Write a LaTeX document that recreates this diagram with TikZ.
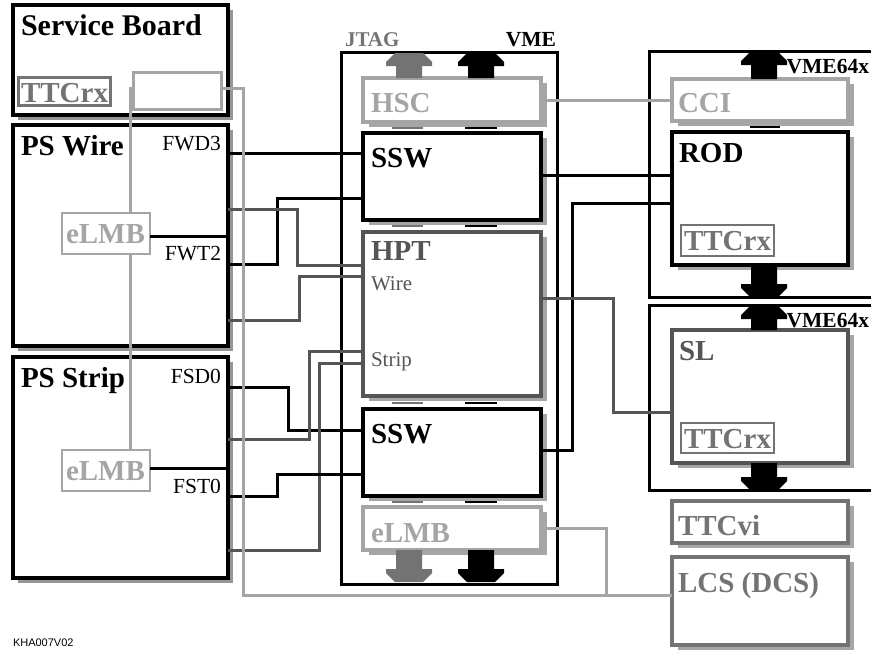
\documentclass[tikz,border=0pt]{standalone}
\usepackage{fontspec}
\setmainfont{Liberation Serif}
\newfontfamily\tagfont{Liberation Sans}
\usetikzlibrary{shadows}
\definecolor{lg}{RGB}{165,165,165}
\definecolor{mg}{RGB}{115,115,115}
\definecolor{dg}{RGB}{85,85,85}
\definecolor{sh}{RGB}{150,150,150}
\newcommand\blkup[4]{% cx, ytop, ybottom, colour
  \fill[#4] (#1-14,#2) -- (#1+14,#2) -- (#1+23,#2+9) -- (#1+23,#2+13) -- (#1+13,#2+13)
    -- (#1+13,#3) -- (#1-13,#3) -- (#1-13,#2+13) -- (#1-23,#2+13) -- (#1-23,#2+9) -- cycle;}
\newcommand\blkdown[4]{% cx, ytop, ybottom, colour
  \fill[#4] (#1-14,#3) -- (#1+14,#3) -- (#1+23,#3-9) -- (#1+23,#3-13) -- (#1+13,#3-13)
    -- (#1+13,#2) -- (#1-13,#2) -- (#1-13,#3-13) -- (#1-23,#3-13) -- (#1-23,#3-9) -- cycle;}
\tikzset{
  x=1pt, y=-1pt,
  every node/.style={inner sep=0pt, outer sep=0pt},
  bigbox/.style={draw=black, line width=4pt, fill=white, anchor=north west,
    drop shadow={shadow xshift=5pt, shadow yshift=-5pt, fill=sh, opacity=1}},
  crate/.style={draw=black, line width=3pt, anchor=north west},
  modbox/.style={line width=3.5pt, fill=white, anchor=north west,
    drop shadow={shadow xshift=6pt, shadow yshift=-5pt, fill=sh!85, opacity=1}},
  smallbox/.style={line width=2.5pt, fill=white, anchor=north west},
  big/.style={anchor=base west, font=\fontsize{29}{29}\selectfont\bfseries},
  mid/.style={anchor=base west, font=\fontsize{21}{21}\selectfont},
  midr/.style={anchor=base east, font=\fontsize{21.5}{21.5}\selectfont},
  hdr/.style={anchor=base east, font=\fontsize{21.5}{21.5}\selectfont\bfseries},
  conn/.style={line width=3pt, black},
  dconn/.style={line width=3pt, dg},
  gconn/.style={line width=3pt, lg},
  bus/.style={line width=2pt},
}
\begin{document}
\begin{tikzpicture}
\useasboundingbox (0,0) rectangle (871,651);
\clip (0,0) rectangle (871,651);
% crates
\node[crate, minimum width=216pt, minimum height=532pt] (vme) at (341,52) {};
\node[crate, minimum width=240pt, minimum height=246pt] (cr1) at (649,51) {};
\node[crate, minimum width=240pt, minimum height=185pt] (cr2) at (649,305) {};
% left crate modules
\node[modbox, draw=lg, minimum width=178pt, minimum height=44pt] (hsc) at (363,78) {};
\node[modbox, draw=black, minimum width=178pt, minimum height=87pt] (ssw1) at (363,133) {};
\node[modbox, draw=dg, minimum width=178pt, minimum height=164pt] (hpt) at (363,232) {};
\node[modbox, draw=black, minimum width=178pt, minimum height=87pt] (ssw2) at (363,409) {};
\node[modbox, draw=lg, minimum width=178pt, minimum height=43pt] (elmbc) at (363,507) {};
% right crate modules
\node[modbox, draw=lg, minimum width=176pt, minimum height=42pt] (cci) at (672,79) {};
\node[modbox, draw=black, minimum width=176pt, minimum height=133pt] (rod) at (672,132) {};
\node[smallbox, draw=mg, minimum width=93pt, minimum height=31pt] (rodttc) at (681,225) {};
\node[modbox, draw=dg, minimum width=176pt, minimum height=133pt] (sl) at (672,330) {};
\node[smallbox, draw=mg, minimum width=93pt, minimum height=30pt] (slttc) at (681,423) {};
\node[modbox, draw=mg, minimum width=176pt, minimum height=42pt] (ttcvi) at (672,501) {};
\node[modbox, draw=mg, minimum width=176pt, minimum height=88pt] (lcs) at (672,557) {};
% left boards
\node[bigbox, minimum width=215pt, minimum height=110pt] (sb) at (13,5) {};
\node[smallbox, draw=mg, line width=3pt, minimum width=92pt, minimum height=28pt] (sbttc) at (18,77) {};
\node[smallbox, draw=lg, line width=3pt, minimum width=88pt, minimum height=37pt] (blank) at (133,72) {};
\node[bigbox, minimum width=215pt, minimum height=221pt] (psw) at (13,125) {};
\node[bigbox, minimum width=215pt, minimum height=221pt] (pss) at (13,357) {};
\node[smallbox, draw=lg, line width=2pt, minimum width=88pt, minimum height=41pt] (elmb1) at (62,213) {};
\node[smallbox, draw=lg, line width=2pt, minimum width=88pt, minimum height=41pt] (elmb2) at (62,450) {};
% bus bars
\foreach \yy in {127.5,226,402.5,501.5} {
  \draw[bus, mg] (392,\yy) -- (423,\yy);
  \draw[bus, black] (465,\yy) -- (497,\yy);
}
\draw[bus, black] (750,126.5) -- (780,126.5);
% connectors
\draw[conn] (psw.east |- 0,153) -- (ssw1.west |- 0,153);
\draw[conn] (psw.east |- 0,264) -- (277,264) -- (277,198) -- (ssw1.west |- 0,198);
\draw[dconn] (psw.east |- 0,209) -- (297,209) -- (297,265) -- (hpt.west |- 0,265);
\draw[dconn] (psw.east |- 0,320) -- (299,320) -- (299,276) -- (hpt.west |- 0,276);
\draw[conn] (pss.east |- 0,387) -- (288,387) -- (288,430) -- (ssw2.west |- 0,430);
\draw[dconn] (pss.east |- 0,439) -- (309,439) -- (309,351) -- (hpt.west |- 0,351);
\draw[dconn] (pss.east |- 0,550) -- (319,550) -- (319,363) -- (hpt.west |- 0,363);
\draw[conn] (pss.east |- 0,496) -- (277,496) -- (277,474) -- (ssw2.west |- 0,474);
\draw[conn] (elmb1.east |- 0,236) -- (psw.east |- 0,236);
\draw[conn] (elmb2.east |- 0,468) -- (pss.east |- 0,468);
\draw[conn] (ssw1.east |- 0,175) -- (rod.west |- 0,175);
\draw[conn] (ssw2.east |- 0,450) -- (572,450) -- (572,203) -- (rod.west |- 0,203);
\draw[dconn] (hpt.east |- 0,298) -- (613,298) -- (613,412) -- (sl.west |- 0,412);
\draw[gconn] (hsc.east |- 0,100) -- (cci.west |- 0,100);
\coordinate (jn) at (606,595);
\draw[gconn] (blank.east |- 0,88) -- (243,88) -- (243,595) -- (lcs.west |- 0,595);
\draw[gconn] (elmbc.east |- 0,528) -- (606,528) -- (jn);
\draw[gconn] (blank.west |- 0,88) -- (130,88) -- (elmb1.north -| 130,0);
\draw[gconn] (elmb1.south -| 130,0) -- (elmb2.north -| 130,0);
% texts
\node[big, font=\fontsize{30}{30}\selectfont\bfseries] (t-sb) at (21,35) {Service Board};
\begin{scope}
  \clip (sbttc.north west) rectangle (sbttc.south east);
  \node[big, text=mg] (t-sbttc) at (21,102) {TTCrx};
\end{scope}
\node[big] (t-psw) at (21,155) {PS Wire};
\node[midr] (t-fwd3) at (221,150) {FWD3};
\node[midr] (t-fwt2) at (221,260) {FWT2};
\node[big, text=lg] (t-elmb1) at (66,243) {eLMB};
\node[big] (t-pss) at (21,387) {PS Strip};
\node[midr] (t-fsd0) at (221,383) {FSD0};
\node[midr] (t-fst0) at (221,493) {FST0};
\node[big, text=lg] (t-elmb2) at (66,480) {eLMB};
\node[anchor=base west, font=\fontsize{21}{21}\selectfont\bfseries, text=mg] (t-jtag) at (345,46) {JTAG};
\node[hdr] (t-vme) at (556,46) {VME};
\node[big, text=lg] (t-hsc) at (371,112) {HSC};
\node[big] (t-ssw1) at (371,167) {SSW};
\node[big, text=dg] (t-hpt) at (371,260) {HPT};
\node[mid, text=dg] (t-wire) at (371,290) {Wire};
\node[mid, text=dg] (t-strip) at (371,366) {Strip};
\node[big] (t-ssw2) at (371,443) {SSW};
\node[big, text=lg] (t-elmbc) at (371,542) {eLMB};
\node[big, text=lg] (t-cci) at (678,112) {CCI};
\node[big] (t-rod) at (679,162) {ROD};
\begin{scope}
  \clip (rodttc.north west) rectangle (rodttc.south east);
  \node[big, text=mg] (t-rodttc) at (684,250) {TTCrx};
\end{scope}
\node[big, text=dg] (t-sl) at (679,360) {SL};
\begin{scope}
  \clip (slttc.north west) rectangle (slttc.south east);
  \node[big, text=mg] (t-slttc) at (684,448) {TTCrx};
\end{scope}
\node[big, text=mg] (t-ttcvi) at (678,535) {TTCvi};
\node[big, text=mg] (t-lcs) at (678,592) {LCS (DCS)};
\node[hdr] (t-vme1) at (869,73) {VME64x};
\node[hdr] (t-vme2) at (869,327) {VME64x};
\node[anchor=base west, font=\tagfont\fontsize{11}{11}\selectfont] (t-tag) at (13,646) {KHA007V02};
% block arrows
\blkup{409}{53}{78}{mg}
\blkup{481}{53}{78}{black}
\blkdown{409}{550}{582}{mg}
\blkdown{481}{550}{582}{black}
\blkup{764}{52}{79}{black}
\blkdown{764}{265}{297}{black}
\blkup{764}{306}{330}{black}
\blkdown{764}{463}{490}{black}
\end{tikzpicture}
\end{document}
